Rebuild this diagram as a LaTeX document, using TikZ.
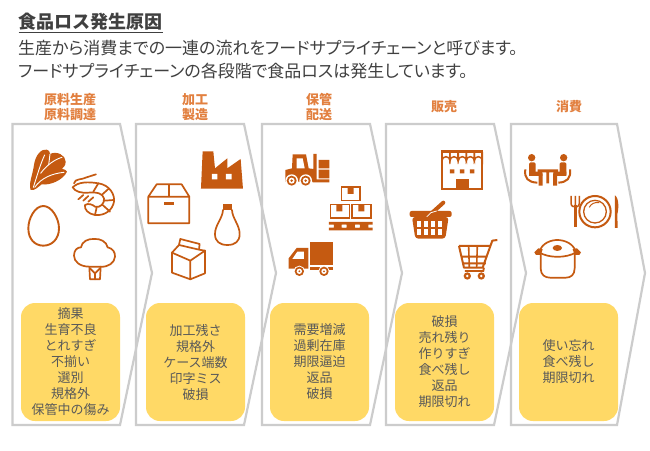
\documentclass[tikz,border=0pt]{standalone}
\usepackage{fontspec}
\setmainfont{Noto Sans CJK JP}
\newfontfamily\palt[RawFeature=+palt]{Noto Sans CJK JP}
\definecolor{ic}{HTML}{C55A11}
\definecolor{lab}{HTML}{E2803F}
\definecolor{gr}{HTML}{CCCCCC}
\definecolor{ye}{HTML}{FFD966}
\definecolor{tx}{HTML}{595959}
\definecolor{hd}{HTML}{404040}
\tikzset{
 chev/.style={draw=gr,line width=2.2pt,line join=miter},
 yebox/.style={rectangle,rounded corners=14pt,fill=ye,minimum width=99pt,minimum height=118pt,inner sep=0pt,align=center,font=\fontsize{13}{16}\selectfont,text=tx},
 lbl/.style={align=center,font=\fontsize{13}{15.5}\selectfont\bfseries,text=lab},
 ln/.style={anchor=west,font=\palt\fontsize{17}{20}\selectfont,text=hd,inner sep=0pt},
 ol/.style={draw=ic,line width=1.7pt,line join=round,line cap=round,fill=none},
 wl/.style={draw=white,line width=.9pt,line cap=round},
 zoom1/.style={shift={(0,90)},x=.3333pt,y=-.3333pt},
 zoom2/.style={shift={(260,90)},x=.3333pt,y=-.3333pt},
 zoom3/.style={shift={(500,90)},x=.3333pt,y=-.3333pt}
}
\begin{document}
\begin{tikzpicture}[x=1pt,y=-1pt]
\useasboundingbox (0,0) rectangle (650,450);
\fill[white] (0,0) rectangle (650,450);
% heading
\node[anchor=west,inner sep=0pt,font=\fontsize{18}{20}\selectfont\bfseries,text=hd] (title) at (18.5,22) {食品ロス発生原因};
\draw[hd,line width=1.1pt] (18.5,32.5) -- (163,32.5);
\node[ln] (line1) at (18,48) {生産から消費までの一連の流れをフードサプライチェーンと呼びます。};
\node[ln] (line2) at (18,71) {フードサプライチェーンの各段階で食品ロスは発生しています。};
% chevrons
\draw[chev] (12.5,124) -- (120,124) -- (152,273) -- (120,425) -- (12.5,425) -- cycle;
\draw[chev] (136,124) -- (244,124) -- (276,273) -- (244,425) -- (136,425) -- cycle;
\draw[chev] (262,124) -- (370,124) -- (402,273) -- (370,425) -- (262,425) -- cycle;
\draw[chev] (386,124) -- (494,124) -- (526,273) -- (494,425) -- (386,425) -- cycle;
\draw[chev] (511,124) -- (617,124) -- (645,273) -- (617,425) -- (511,425) -- cycle;
% labels
\node[lbl] (l1) at (70,107) {原料生産\\原料調達};
\node[lbl] (l2) at (195,107) {加工\\製造};
\node[lbl] (l3) at (319,107) {保管\\配送};
\node[lbl] (l4) at (444,107) {販売};
\node[lbl] (l5) at (569,107) {消費};
% boxes
\node[yebox] (b1) at (70.5,362) {摘果\\生育不良\\とれすぎ\\不揃い\\選別\\規格外\\保管中の傷み};
\node[yebox] (b2) at (195.5,362) {加工残さ\\規格外\\ケース端数\\印字ミス\\破損};
\node[yebox] (b3) at (319.5,362) {需要増減\\過剰在庫\\期限逼迫\\返品\\破損};
\node[yebox] (b4) at (444.5,362) {破損\\売れ残り\\作りすぎ\\食べ残し\\返品\\期限切れ};
\node[yebox] (b5) at (568.5,362) {使い忘れ\\食べ残し\\期限切れ};
% ---- column 1 and 2 icons
\begin{scope}[zoom1]
% spinach
\fill[ic] (92,300) .. controls (85,280) and (98,255) .. (102,225) .. controls (106,195) and (125,175) .. (140,179) .. controls (150,182) and (150,190) .. (150,192) .. controls (170,182) and (197,195) .. (197,215) .. controls (197,228) and (190,232) .. (186,236) .. controls (195,238) and (200,242) .. (201,245) .. controls (190,270) and (150,287) .. (125,283) .. controls (115,290) and (105,303) .. (92,300) -- cycle;
\draw[wl] (100,292) .. controls (112,255) and (122,220) .. (134,195);
\draw[wl] (104,292) .. controls (125,262) and (160,250) .. (192,247);
\draw[wl] (122,250) .. controls (140,225) and (165,208) .. (186,202);
\draw[wl] (150,192) -- (146,225);
% shrimp
\draw[ol] (218,292) .. controls (235,275) and (265,275) .. (295,280) .. controls (330,285) and (345,315) .. (342,335) .. controls (338,360) and (315,378) .. (285,375) .. controls (265,372) and (252,358) .. (255,345) .. controls (265,338) and (280,345) .. (285,350) .. controls (300,355) and (315,340) .. (312,325) .. controls (308,310) and (290,305) .. (265,308) .. controls (245,310) and (225,305) .. (218,292) -- cycle;
\draw[ol] (222,280) .. controls (225,265) and (245,270) .. (260,262) -- (288,253);
\draw[ol] (295,280) -- (280,305) (325,297) -- (305,315) (342,330) -- (313,332) (330,365) -- (308,345) (285,375) -- (290,352);
\draw[ol] (235,328) -- (250,315) (250,332) -- (265,318) (265,335) -- (280,322);
% egg
\draw[ic,line width=1.9pt] (130,348) .. controls (155,348) and (177,385) .. (177,415) .. controls (177,448) and (155,467) .. (130,467) .. controls (105,467) and (85,448) .. (85,415) .. controls (85,385) and (105,348) .. (130,348) -- cycle;
% broccoli
\draw[ol] (268,530) .. controls (240,530) and (222,515) .. (222,497) .. controls (222,480) and (232,472) .. (243,472) .. controls (245,455) and (265,445) .. (283,447) .. controls (300,445) and (320,455) .. (323,472) .. controls (338,475) and (346,487) .. (345,500) .. controls (344,518) and (325,532) .. (302,530) -- (268,530);
\draw[ol] (268,530) -- (270,568) -- (300,568) -- (302,530);
\draw[ol] (270,535) -- (285,550) -- (300,535) (285,550) -- (285,568);
% box
\draw[ol] (445,320) -- (470,283) -- (545,283) -- (568,320) -- (568,400) -- (445,400) -- cycle (445,320) -- (568,320) (507,283) -- (507,320);
\fill[ic] (491,337) rectangle (523,344);
% factory
\fill[ic] (603,296) -- (608,184) -- (640,184) -- (645,235) -- (682,205) -- (682,235) -- (722,207) -- (729,296) -- cycle;
\fill[white] (636,252) rectangle (652,268) (678,252) rectangle (695,268);
% bottle
\fill[ic] (669,341) rectangle (696,360);
\draw[ol] (669,360) .. controls (668,385) and (645,405) .. (645,432) .. controls (645,455) and (660,465) .. (682,465) .. controls (705,465) and (719,455) .. (719,432) .. controls (719,405) and (697,385) .. (696,360);
% carton
\draw[ol] (516,488) -- (571,512) -- (615,482) -- (615,550) -- (571,568) -- (516,548) -- cycle (571,512) -- (571,568);
\draw[ol] (516,488) -- (537,465) -- (597,479) -- (615,482) (537,465) -- (541,447) -- (599,462) -- (597,479);
\end{scope}
% ---- column 3 and 4 icons
\begin{scope}[zoom2]
% forklift
\fill[ic] (76,275) -- (76,240) -- (96,235) -- (98,193) -- (138,193) -- (146,235) -- (160,237) -- (160,192) -- (170,192) -- (170,268) -- (208,268) -- (208,277) -- (158,277) -- (158,275) -- cycle;
\fill[white] (110,205) -- (128,205) -- (134,235) -- (110,235) -- cycle;
\fill[ic] (176,210) rectangle (208,235) (176,239) rectangle (208,265);
\foreach \x in {95,137}{\fill[white] (\x,272) circle (19); \fill[ic] (\x,272) circle (15); \fill[white] (\x,272) circle (9); \fill[ic] (\x,272) circle (4);}
% pallet
\draw[ic,line width=1.6pt] (245,291) rectangle (300,332) (211,344) rectangle (268,384) (276,344) rectangle (333,384);
\fill[ic] (263,290) rectangle (281,312) (229,343) rectangle (247,364) (295,343) rectangle (313,364);
\fill[ic] (207,396) rectangle (338,404) (207,413) rectangle (338,421) (222,396) rectangle (245,421) (260,396) rectangle (285,421) (300,396) rectangle (325,421);
\fill[white] (248,405) rectangle (258,412) (288,405) rectangle (298,412);
% truck
\fill[ic] (150,457) rectangle (220,524);
\fill[ic] (86,536) -- (86,505) -- (110,474) -- (145,474) -- (145,536) -- cycle;
\fill[ic] (150,530) rectangle (220,540);
\fill[white] (112,485) -- (132,485) -- (132,507) -- (97,507) -- cycle;
\foreach \x in {118,192}{\fill[white] (\x,544) circle (17); \fill[ic] (\x,544) circle (14); \fill[white] (\x,544) circle (8); \fill[ic] (\x,544) circle (3);}
% store
\draw[ic,line width=1.7pt] (546,183) rectangle (667,296);
\fill[ic] (546,181) rectangle (667,189);
\foreach \x in {546,570,595,619,643}{\draw[ic,line width=1.5pt] (\x,186) -- (\x,212) arc[start angle=180,end angle=360,radius=12] -- ++(0,-26);}
\fill[ic] (570,238) rectangle (583,250) (600,238) rectangle (613,250) (630,238) rectangle (643,250);
\fill[ic] (587,267) rectangle (627,296);
% basket
\draw[ic,line width=4pt,line cap=round] (510,374) -- (550,338);
\fill[ic,rounded corners=2pt] (449,363) rectangle (575,381);
\draw[white,line width=.8pt] (500,381) -- (513,368) -- (530,363);
\fill[ic,rounded corners=3pt] (456,381) -- (566,381) -- (556,446) -- (466,446) -- cycle;
\foreach \y in {392,417}{\foreach \x in {470,491,512,533}{\fill[white] (\x,\y) rectangle +(14,18);}}
% cart
\draw[ic,line width=2pt,line join=round] (597,468) -- (690,468) (606,500) -- (682,500) (610,520) -- (678,520) (597,468) -- (612,533) -- (668,533) -- (697,452) -- (712,450);
\draw[ic,line width=1.6pt] (626,468) -- (628,533) (652,468) -- (650,533);
\draw[ic,line width=1.8pt] (672,533) -- (670,543) -- (615,543);
\foreach \x in {622,664}{\fill[ic] (\x,558) circle (11); \fill[white] (\x,558) circle (4);}
\end{scope}
% ---- column 5 icons
\begin{scope}[zoom3]
% table and people
\foreach \x in {95,191}{\fill[ic] (\x,203) circle (11);}
\fill[ic,rounded corners=1.5pt] (87,217) rectangle (107,258) (179,217) rectangle (199,258);
\fill[ic] (87,245) rectangle (127,258) (160,245) rectangle (199,258);
\fill[ic] (116,250) rectangle (128,287) (159,250) rectangle (171,287);
\fill[ic] (113,238) rectangle (174,247) (139,247) rectangle (147,280);
\draw[ic,line width=2pt] (76,238) .. controls (72,265) and (85,277) .. (112,278) (210,238) .. controls (214,265) and (200,277) .. (175,278);
% fork
\draw[ic,line width=1.5pt] (213,318) -- (213,340) .. controls (213,352) and (226,352) .. (226,345) (226,318) -- (226,345) (238,318) -- (238,340) .. controls (238,352) and (226,352) .. (226,345);
\draw[ic,line width=2.6pt] (226,345) -- (226,412);
% plate
\draw[ic,line width=2pt] (285,365) circle (47);
\draw[ic,line width=1.3pt] (285,365) circle (34);
\draw[ic,line width=1pt] (268,352) .. controls (272,342) and (285,335) .. (298,338);
% knife
\fill[ic] (345,316) .. controls (358,325) and (356,360) .. (352,372) -- (353,414) -- (345,414) -- cycle;
% pot
\draw[ol] (122,490) -- (122,535) .. controls (122,555) and (135,563) .. (150,563) -- (198,563) .. controls (212,563) and (224,555) .. (224,535) -- (224,490);
\draw[ol] (118,487) .. controls (125,458) and (155,450) .. (172,450) .. controls (195,450) and (222,462) .. (228,487) .. controls (200,505) and (145,505) .. (118,487) -- cycle;
\fill[ic] (172,474) ellipse (14 and 9);
\fill[ic] (103,487) -- (115,475) -- (128,478) -- (122,495) -- (108,495) -- cycle;
\fill[ic] (243,487) -- (231,475) -- (218,478) -- (224,495) -- (238,495) -- cycle;
\end{scope}
\end{tikzpicture}
\end{document}
